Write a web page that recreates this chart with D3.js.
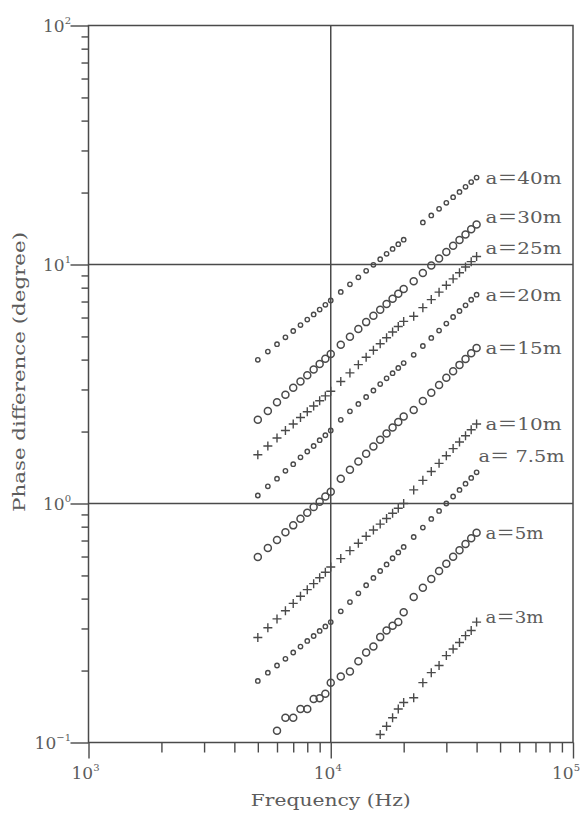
<!DOCTYPE html>
<html>
<head>
<meta charset="utf-8">
<script src="https://cdn.jsdelivr.net/npm/d3@7"></script>
<style>
  html, body { margin: 0; padding: 0; background: #ffffff; }
  svg { display: block; }
</style>
</head>
<body>
<svg id="chart" width="588" height="815"></svg>
<script>
// Measurement frequencies (Hz)
const freqs = [5000, 5500, 6000, 6500, 7000, 7500, 8000, 8500, 9000, 9500, 10000,
  11000, 12000, 13000, 14000, 15000, 16000, 17000, 18000, 19000, 20000,
  22000, 24000, 26000, 28000, 30000, 32000, 34000, 36000, 38000, 40000];

// Phase difference (degree) for each loop radius a
const a40 = [3.99, 4.32, 4.64, 4.96, 5.27, 5.58, 5.88, 6.18, 6.48, 6.78, 7.07,
  7.68, 8.26, 8.84, 9.41, 9.97, 10.52, 11.08, 11.62, 12.16, 12.70,
  null, 15.0, 16.05, 17.09, 18.11, 19.13, 20.13, 21.13, 22.12, 23.1];
const a30 = [2.24, 2.44, 2.65, 2.85, 3.05, 3.24, 3.44, 3.64, 3.83, 4.03, 4.22,
  4.62, 4.99, 5.37, 5.74, 6.10, 6.47, 6.83, 7.19, 7.54, 7.90,
  8.5, 9.21, 9.91, 10.60, 11.29, 11.98, 12.67, 13.35, 14.03, 14.7];
const a25 = [1.60, 1.74, 1.88, 2.02, 2.15, 2.29, 2.42, 2.56, 2.69, 2.82, 2.95,
  3.24, 3.52, 3.81, 4.09, 4.38, 4.66, 4.94, 5.22, 5.50, 5.78,
  6.07, 6.60, 7.13, 7.66, 8.19, 8.71, 9.23, 9.76, 10.28, 10.8];
const a20 = [1.08, 1.18, 1.27, 1.37, 1.46, 1.56, 1.65, 1.74, 1.84, 1.93, 2.02,
  2.24, 2.43, 2.61, 2.79, 2.97, 3.16, 3.34, 3.51, 3.69, 3.87,
  4.19, 4.56, 4.93, 5.29, 5.66, 6.03, 6.39, 6.75, 7.12, 7.48];
const a15 = [0.597, 0.651, 0.704, 0.758, 0.810, 0.863, 0.915, 0.966, 1.018, 1.069, 1.12,
  1.27, 1.385, 1.50, 1.616, 1.732, 1.847, 1.963, 2.078, 2.194, 2.31,
  2.46, 2.684, 2.907, 3.131, 3.355, 3.578, 3.802, 4.025, 4.249, 4.47];
const a10 = [0.275, 0.302, 0.329, 0.356, 0.382, 0.409, 0.436, 0.462, 0.489, 0.516, 0.542,
  0.588, 0.635, 0.682, 0.729, 0.775, 0.820, 0.866, 0.911, 0.955, 1.0,
  1.14, 1.250, 1.361, 1.472, 1.584, 1.697, 1.809, 1.922, 2.036, 2.15];
const a7_5 = [0.181, 0.196, 0.210, 0.224, 0.238, 0.252, 0.266, 0.279, 0.293, 0.306, 0.319,
  0.354, 0.387, 0.421, 0.455, 0.488, 0.522, 0.556, 0.590, 0.624, 0.658,
  0.724, 0.793, 0.862, 0.931, 1.000, 1.070, 1.140, 1.210, 1.280, 1.35];
const a5 = [null, null, 0.112, 0.127, 0.127, 0.138, 0.138, 0.152, 0.153, 0.160, 0.178,
  0.189, 0.198, 0.219, 0.238, 0.252, 0.276, 0.294, 0.308, 0.319, 0.351,
  0.406, 0.444, 0.483, 0.522, 0.560, 0.599, 0.638, 0.677, 0.716, 0.755];
const a3 = [null, null, null, null, null, null, null, null, null, null, null,
  null, null, null, null, null, 0.108, 0.117, 0.127, 0.138, 0.147,
  0.154, 0.178, 0.196, 0.210, 0.231, 0.246, 0.262, 0.280, 0.294, 0.319];

// Series labels
const seriesNames = ["a＝40m", "a＝30m", "a＝25m", "a＝20m", "a＝15m", "a＝10m", "a＝ 7.5m", "a＝5m", "a＝3m"];
const seriesValues = [a40, a30, a25, a20, a15, a10, a7_5, a5, a3];

// Axis tick labels (decade exponents)
const xDecades = [1e3, 1e4, 1e5];
const xDecadeExp = ["3", "4", "5"];
const yDecades = [0.1, 1, 10, 100];
const yDecadeExp = ["−1", "0", "1", "2"];

// Drawing styles per series: marker kind, label nudges and label width
const seriesStyle = [
  { marker: "small", dx: 9, dy: 0,   w: 76 },
  { marker: "big",   dx: 9, dy: -8,  w: 76 },
  { marker: "cross", dx: 9, dy: -9,  w: 76 },
  { marker: "small", dx: 9, dy: 0,   w: 76 },
  { marker: "big",   dx: 9, dy: 0,   w: 76 },
  { marker: "cross", dx: 9, dy: 0,   w: 76 },
  { marker: "small", dx: 2, dy: -16, w: 86 },
  { marker: "big",   dx: 9, dy: 0,   w: 58 },
  { marker: "cross", dx: 9, dy: -5,  w: 58 }
];

const ink = "#4a4a4a";
const soft = "#5c5c5c";
const serif = "'DejaVu Serif', 'Liberation Serif', 'Noto Sans CJK JP', serif";

const svg = d3.select("#chart");
const x = d3.scaleLog().domain([1e3, 1e5]).range([88.5, 573]);
const y = d3.scaleLog().domain([0.1, 100]).range([742.5, 25.5]);

const x0 = x.range()[0], x1 = x.range()[1];
const yb = y.range()[0], yt = y.range()[1];

// Minor and major ticks
const minorX = [], minorY = [];
[1e3, 1e4].forEach(d => { for (let k = 2; k <= 9; k++) minorX.push(k * d); });
[0.1, 1, 10].forEach(d => { for (let k = 2; k <= 9; k++) minorY.push(+(k * d).toPrecision(3)); });

function styleAxis(g) {
  g.select(".domain").remove();
  g.selectAll(".tick line").attr("stroke", ink).attr("stroke-width", 1.4);
  g.selectAll(".tick text").remove();
}

svg.append("g").attr("transform", `translate(0,${yb})`)
  .call(d3.axisBottom(x).tickValues(minorX).tickSize(10).tickFormat(""))
  .call(styleAxis);
svg.append("g").attr("transform", `translate(0,${yb})`)
  .call(d3.axisBottom(x).tickValues(xDecades).tickSize(16).tickFormat(""))
  .call(styleAxis);
svg.append("g").attr("transform", `translate(${x0},0)`)
  .call(d3.axisLeft(y).tickValues(minorY).tickSize(7).tickFormat(""))
  .call(styleAxis);
svg.append("g").attr("transform", `translate(${x0},0)`)
  .call(d3.axisLeft(y).tickValues(yDecades).tickSize(18).tickFormat(""))
  .call(styleAxis);

// Frame and decade grid lines
const grid = svg.append("g").attr("stroke", ink).attr("stroke-width", 1.5).attr("fill", "none");
grid.append("rect").attr("x", x0).attr("y", yt).attr("width", x1 - x0).attr("height", yb - yt);
[1, 10].forEach(v => grid.append("line")
  .attr("x1", x0).attr("x2", x1).attr("y1", y(v)).attr("y2", y(v)));
grid.append("line").attr("x1", x(1e4)).attr("x2", x(1e4)).attr("y1", yt).attr("y2", yb);

// Decade labels with superscript exponents
function decadeLabel(g, exp) {
  g.append("tspan").text("10");
  g.append("tspan").attr("font-size", 10).attr("dy", -8).text(exp);
}
const xLabelShift = [-3, -3, -7];
xDecades.forEach((d, i) => {
  const t = svg.append("text").attr("x", x(d) + xLabelShift[i]).attr("y", 779)
    .attr("text-anchor", "middle").attr("font-family", serif)
    .attr("font-size", 17).attr("fill", soft);
  decadeLabel(t, xDecadeExp[i]);
});
yDecades.forEach((d, i) => {
  const t = svg.append("text").attr("x", 71).attr("y", y(d) + 6)
    .attr("text-anchor", "end").attr("font-family", serif)
    .attr("font-size", 17).attr("fill", soft);
  decadeLabel(t, yDecadeExp[i]);
});

// Axis titles
svg.append("text").attr("x", x(1e4)).attr("y", 806).attr("text-anchor", "middle")
  .attr("font-family", serif).attr("font-size", 16).attr("fill", soft)
  .attr("textLength", 160).attr("lengthAdjust", "spacingAndGlyphs")
  .text("Frequency (Hz)");
svg.append("text").attr("transform", "translate(25,372) rotate(-90)")
  .attr("text-anchor", "middle").attr("font-family", serif)
  .attr("font-size", 16).attr("fill", soft)
  .attr("textLength", 280).attr("lengthAdjust", "spacingAndGlyphs")
  .text("Phase difference (degree)");

// Data markers
const plot = svg.append("g");
seriesValues.forEach((vals, si) => {
  const st = seriesStyle[si];
  const pts = freqs.map((f, i) => ({ f, v: vals[i] })).filter(p => p.v != null);
  const g = plot.append("g").attr("stroke", ink).attr("fill", "none");
  if (st.marker === "cross") {
    g.selectAll("path").data(pts).join("path")
      .attr("d", p => `M${x(p.f) - 4.5},${y(p.v)}H${x(p.f) + 4.5}M${x(p.f)},${y(p.v) - 4.5}V${y(p.v) + 4.5}`)
      .attr("stroke-width", 1.4);
  } else {
    g.selectAll("circle").data(pts).join("circle")
      .attr("cx", p => x(p.f)).attr("cy", p => y(p.v))
      .attr("r", st.marker === "big" ? 3.5 : 2.2)
      .attr("stroke-width", st.marker === "big" ? 1.5 : 1.4);
  }
  const last = pts[pts.length - 1];
  svg.append("text")
    .attr("x", x(last.f) + st.dx).attr("y", y(last.v) + st.dy + 6)
    .attr("font-family", serif).attr("font-size", 17).attr("fill", soft)
    .attr("textLength", st.w).attr("lengthAdjust", "spacingAndGlyphs")
    .text(seriesNames[si]);
});
</script>
</body>
</html>
